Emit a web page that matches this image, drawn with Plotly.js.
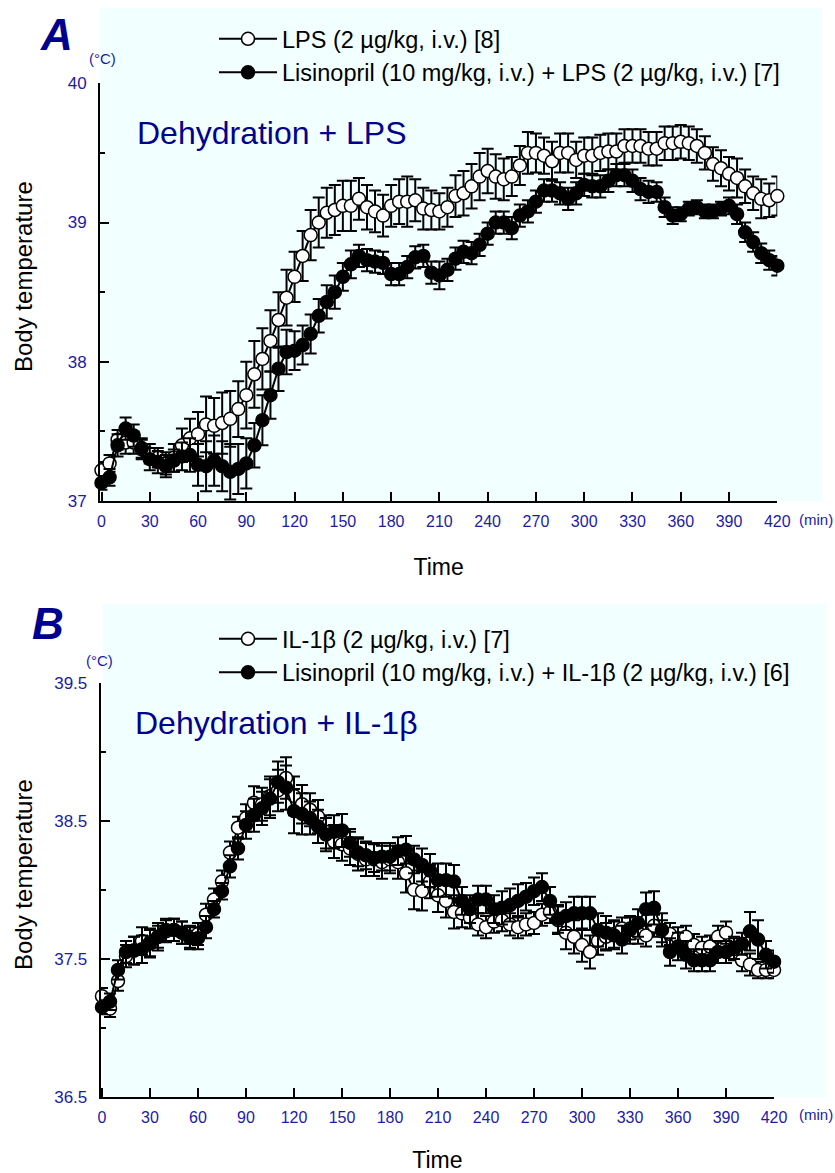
<!DOCTYPE html>
<html>
<head>
<meta charset="utf-8">
<script src="https://cdn.plot.ly/plotly-3.0.1.min.js"></script>
<style>html,body{margin:0;padding:0;background:#fff;}#chart{width:835px;height:1173px;}</style>
</head>
<body>
<div id="chart"></div>
<script>
// ---- data (time in min, body temperature in °C, mean and SEM) ----
const time = [0,5,10,15,20,25,30,35,40,45,50,55,60,65,70,75,80,85,90,95,100,105,110,115,120,125,130,135,140,145,150,155,160,165,170,175,180,185,190,195,200,205,210,215,220,225,230,235,240,245,250,255,260,265,270,275,280,285,290,295,300,305,310,315,320,325,330,335,340,345,350,355,360,365,370,375,380,385,390,395,400,405,410,415,420];

// Panel A
const lpsMean = [37.22,37.27,37.44,37.42,37.42,37.37,37.34,37.31,37.27,37.31,
37.40,37.45,37.48,37.55,37.54,37.56,37.59,37.66,37.76,37.91,
38.02,38.15,38.30,38.46,38.61,38.76,38.91,39.00,39.07,39.09,
39.12,39.12,39.17,39.11,39.08,39.05,39.12,39.15,39.15,39.16,
39.10,39.09,39.08,39.11,39.19,39.21,39.26,39.33,39.37,39.33,
39.31,39.33,39.41,39.50,39.50,39.48,39.44,39.50,39.50,39.45,
39.48,39.48,39.50,39.51,39.51,39.55,39.55,39.55,39.53,39.53,
39.57,39.57,39.58,39.57,39.55,39.50,39.42,39.39,39.35,39.32,
39.26,39.21,39.17,39.16,39.19];
const lpsSem = [0.06,0.06,0.07,0.08,0.08,0.07,0.07,0.07,0.08,0.10,
0.12,0.14,0.16,0.20,0.20,0.22,0.20,0.20,0.24,0.24,
0.22,0.22,0.20,0.20,0.18,0.18,0.18,0.18,0.18,0.18,
0.18,0.18,0.15,0.16,0.15,0.15,0.15,0.16,0.18,0.15,
0.15,0.14,0.13,0.14,0.15,0.16,0.16,0.17,0.16,0.16,
0.15,0.14,0.14,0.15,0.14,0.13,0.14,0.14,0.14,0.13,
0.13,0.13,0.13,0.13,0.13,0.12,0.12,0.12,0.12,0.12,
0.12,0.12,0.12,0.12,0.12,0.12,0.12,0.13,0.12,0.14,
0.12,0.12,0.14,0.12,0.14];
const lisLpsMean = [37.13,37.17,37.40,37.52,37.47,37.38,37.30,37.28,37.25,37.29,
37.32,37.33,37.26,37.25,37.29,37.25,37.21,37.23,37.27,37.40,
37.58,37.76,37.95,38.07,38.08,38.12,38.20,38.33,38.43,38.50,
38.61,38.70,38.76,38.73,38.72,38.71,38.63,38.63,38.68,38.75,
38.76,38.64,38.62,38.66,38.74,38.79,38.78,38.84,38.92,39.00,
39.00,38.96,39.05,39.08,39.15,39.23,39.23,39.21,39.17,39.21,
39.27,39.26,39.26,39.30,39.34,39.34,39.30,39.24,39.22,39.22,
39.11,39.05,39.06,39.10,39.11,39.08,39.08,39.10,39.12,39.06,
38.93,38.86,38.78,38.73,38.69];
const lisLpsSem = [0.05,0.06,0.08,0.08,0.08,0.07,0.08,0.08,0.08,0.08,
0.10,0.12,0.15,0.18,0.18,0.18,0.20,0.18,0.18,0.16,
0.18,0.17,0.16,0.16,0.14,0.14,0.14,0.12,0.12,0.12,
0.10,0.10,0.08,0.08,0.08,0.08,0.08,0.08,0.08,0.08,
0.08,0.08,0.10,0.08,0.08,0.08,0.08,0.08,0.08,0.08,
0.08,0.08,0.08,0.08,0.08,0.08,0.08,0.08,0.08,0.08,
0.08,0.08,0.08,0.08,0.08,0.08,0.08,0.08,0.08,0.07,
0.07,0.06,0.05,0.05,0.05,0.05,0.05,0.05,0.06,0.07,
0.07,0.07,0.07,0.07,0.07];

// Panel B
const il1Mean = [37.23,37.14,37.34,37.52,37.56,37.63,37.62,37.66,37.70,37.71,
37.69,37.66,37.68,37.82,37.93,38.06,38.27,38.45,38.52,38.63,
38.62,38.68,38.72,38.81,38.68,38.62,38.58,38.53,38.42,38.35,
38.33,38.30,38.26,38.22,38.22,38.20,38.22,38.20,38.12,38.00,
37.99,38.06,37.96,37.92,37.84,37.83,37.80,37.75,37.73,37.77,
37.78,37.75,37.73,37.75,37.76,37.82,37.84,37.78,37.69,37.66,
37.60,37.55,37.63,37.66,37.68,37.72,37.72,37.69,37.67,37.74,
37.70,37.68,37.65,37.66,37.60,37.58,37.59,37.66,37.69,37.57,
37.49,37.46,37.42,37.42,37.42];
const il1Sem = [0.06,0.06,0.07,0.08,0.10,0.10,0.10,0.10,0.08,0.08,
0.08,0.08,0.08,0.08,0.08,0.08,0.08,0.08,0.10,0.12,
0.12,0.14,0.15,0.15,0.14,0.14,0.12,0.12,0.12,0.12,
0.12,0.12,0.12,0.12,0.12,0.12,0.10,0.12,0.14,0.14,
0.14,0.12,0.12,0.12,0.12,0.10,0.08,0.08,0.08,0.08,
0.08,0.08,0.08,0.08,0.08,0.08,0.08,0.10,0.12,0.12,
0.12,0.12,0.10,0.10,0.10,0.08,0.08,0.08,0.08,0.08,
0.08,0.08,0.08,0.08,0.08,0.08,0.08,0.08,0.08,0.08,
0.08,0.08,0.06,0.06,0.06];
const lisIl1Mean = [37.15,37.19,37.42,37.55,37.56,37.57,37.61,37.66,37.71,37.71,
37.69,37.65,37.65,37.73,37.86,37.99,38.17,38.30,38.47,38.54,
38.59,38.66,38.78,38.74,38.57,38.55,38.52,38.46,38.40,38.42,
38.43,38.34,38.27,38.25,38.23,38.24,38.24,38.28,38.29,38.22,
38.18,38.14,38.07,38.07,38.06,37.92,37.86,37.93,37.93,37.86,
37.87,37.89,37.92,37.95,37.99,38.02,37.92,37.79,37.81,37.83,
37.83,37.83,37.71,37.69,37.67,37.64,37.71,37.76,37.86,37.87,
37.71,37.55,37.59,37.53,37.49,37.49,37.49,37.55,37.55,37.58,
37.61,37.70,37.64,37.53,37.48];
const lisIl1Sem = [0.05,0.06,0.07,0.08,0.10,0.10,0.10,0.08,0.08,0.08,
0.08,0.08,0.08,0.08,0.06,0.06,0.08,0.08,0.10,0.12,
0.12,0.14,0.15,0.16,0.16,0.15,0.12,0.12,0.12,0.12,
0.12,0.10,0.10,0.10,0.10,0.10,0.10,0.10,0.10,0.10,
0.12,0.12,0.12,0.12,0.12,0.10,0.10,0.10,0.10,0.10,
0.12,0.12,0.12,0.10,0.10,0.10,0.10,0.10,0.10,0.12,
0.12,0.12,0.12,0.12,0.10,0.10,0.10,0.10,0.12,0.12,
0.12,0.10,0.10,0.10,0.08,0.08,0.08,0.08,0.08,0.08,
0.08,0.14,0.14,0.10,0.08];

const xTicks = [0,30,60,90,120,150,180,210,240,270,300,330,360,390,420];
const labelsA = ['LPS (2 µg/kg, i.v.) [8]', 'Lisinopril (10 mg/kg, i.v.) + LPS (2 µg/kg, i.v.) [7]'];
const labelsB = ['IL-1β (2 µg/kg, i.v.) [7]', 'Lisinopril (10 mg/kg, i.v.) + IL-1β (2 µg/kg, i.v.) [6]'];

// ---- styling ----
const W = 835, H = 1173;
const px = v => v / W;            // horizontal pixel -> paper
const py = v => 1 - v / H;        // vertical pixel -> paper
const FONT = 'Arial, "Liberation Sans", Helvetica, sans-serif';
const BLUE = '#1c1ca6';
const DARKBLUE = '#00008f';
const BG = '#f2ffff';

function series(x, y, e, filled, name, xa, ya, leg) {
  return {
    x: x, y: y, name: name, type: 'scatter', mode: 'lines+markers',
    xaxis: xa, yaxis: ya, legend: leg, cliponaxis: false,
    line: {color: '#000', width: 2},
    marker: {symbol: 'circle', size: 13, color: filled ? '#000' : '#fff', line: {color: '#000', width: 1.5}},
    error_y: {type: 'data', array: e, visible: true, color: '#000', thickness: 2, width: 6}
  };
}

const traces = [
  series(time, lpsMean, lpsSem, false, labelsA[0], 'x', 'y', 'legend'),
  series(time, lisLpsMean, lisLpsSem, true, labelsA[1], 'x', 'y', 'legend'),
  series(time, il1Mean, il1Sem, false, labelsB[0], 'x2', 'y2', 'legend2'),
  series(time, lisIl1Mean, lisIl1Sem, true, labelsB[1], 'x2', 'y2', 'legend2')
];

function xAxis(domain, range, anchor) {
  return {
    domain: domain, range: range, anchor: anchor,
    tickmode: 'array', tickvals: xTicks, ticktext: xTicks.map(String),
    ticks: 'inside', ticklen: 9, tickwidth: 2, tickcolor: '#000',
    showline: true, linecolor: '#000', linewidth: 2, mirror: false,
    showgrid: false, zeroline: false, ticklabelstandoff: 5,
    tickfont: {family: FONT, size: 16, color: BLUE},
    title: {text: 'Time', font: {family: FONT, size: 23, color: '#000'}, standoff: 30}
  };
}
function yAxis(domain, range, anchor, dtick, tick0) {
  return {
    domain: domain, range: range, anchor: anchor,
    dtick: dtick, tick0: tick0,
    ticks: 'inside', ticklen: 9, tickwidth: 2, tickcolor: '#000',
    minor: {dtick: dtick / 2, tick0: tick0, ticks: 'inside', ticklen: 5, tickwidth: 2, tickcolor: '#000', showgrid: false},
    showline: true, linecolor: '#000', linewidth: 2, mirror: false,
    showgrid: false, zeroline: false, ticklabelstandoff: 8,
    tickfont: {family: FONT, size: 17, color: BLUE}
  };
}

const legendStyle = (ytop) => ({
  x: px(214), xanchor: 'left', y: py(ytop), yanchor: 'top',
  bgcolor: 'rgba(0,0,0,0)', borderwidth: 0,
  font: {family: FONT, size: 23.5, color: '#000'},
  itemwidth: 58, traceorder: 'normal', tracegroupgap: 0
});

const annFont = (size, color, extra) => Object.assign({family: FONT, size: size, color: color}, extra || {});
const ann = (text, x, y, xanchor, font, extra) => Object.assign({
  text: text, xref: 'paper', yref: 'paper', x: px(x), y: py(y),
  xanchor: xanchor, yanchor: 'middle', showarrow: false, font: font
}, extra || {});

const layout = {
  width: W, height: H,
  margin: {l: 0, r: 0, t: 0, b: 0},
  paper_bgcolor: '#fff', plot_bgcolor: 'rgba(0,0,0,0)',
  showlegend: true,
  font: {family: FONT},
  xaxis: xAxis([px(100), px(777.3)], [-0.93, 420], 'y'),
  yaxis: yAxis([py(501), py(83.3)], [37, 40], 'x', 1, 37),
  xaxis2: xAxis([px(100.7), px(774)], [-0.8, 420], 'y2'),
  yaxis2: yAxis([py(1097), py(682.7)], [36.5, 39.5], 'x2', 1, 36.5),
  legend: legendStyle(17),
  legend2: legendStyle(617),
  shapes: [
    {type: 'rect', xref: 'paper', yref: 'paper', x0: px(100), x1: px(822), y0: py(501), y1: py(8), fillcolor: BG, line: {width: 0}, layer: 'below'},
    {type: 'rect', xref: 'paper', yref: 'paper', x0: px(103), x1: px(825), y0: py(1097), y1: py(604), fillcolor: BG, line: {width: 0}, layer: 'below'}
  ],
  annotations: [
    ann('A', 56, 35, 'center', annFont(44, DARKBLUE, {weight: 'bold', style: 'italic'})),
    ann('B', 48, 623, 'center', annFont(44, DARKBLUE, {weight: 'bold', style: 'italic'})),
    ann('Dehydration + LPS', 135, 133, 'left', annFont(32, DARKBLUE)),
    ann('Dehydration + IL-1β', 133, 723, 'left', annFont(32, DARKBLUE)),
    ann('(°C)', 102, 58, 'center', annFont(15, BLUE)),
    ann('(°C)', 99, 660, 'center', annFont(15, BLUE)),
    ann('(min)', 797, 519, 'left', annFont(15, BLUE)),
    ann('(min)', 797, 1114, 'left', annFont(15, BLUE)),
    ann('Body temperature', 23, 277, 'center', annFont(24, '#000'), {textangle: -90}),
    ann('Body temperature', 23, 875, 'center', annFont(24, '#000'), {textangle: -90})
  ]
};

Plotly.newPlot('chart', traces, layout, {displayModeBar: false, staticPlot: true});
</script>
</body>
</html>
